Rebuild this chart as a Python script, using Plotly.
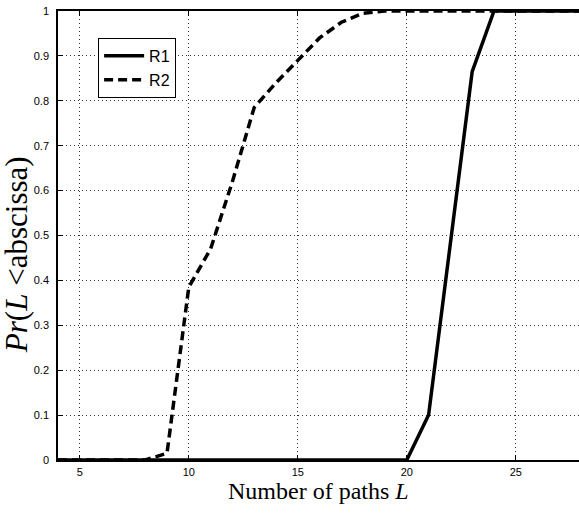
import plotly.graph_objects as go

# ---- data ----
L_values = [4, 5, 6, 7, 8, 9, 10, 11, 12, 13, 14, 15, 16, 17, 18, 19, 20, 21, 22, 23, 24, 25, 26, 27, 28]
R1 = [0, 0, 0, 0, 0, 0, 0, 0, 0, 0, 0, 0, 0, 0, 0, 0, 0, 0.10, 0.48, 0.865, 1, 1, 1, 1, 1]
R2 = [0, 0, 0, 0, 0, 0.015, 0.385, 0.47, 0.62, 0.785, 0.84, 0.89, 0.94, 0.975, 0.995, 1, 1, 1, 1, 1, 1, 1, 1, 1, 1]
series_names = ["R1", "R2"]
x_ticks = [5, 10, 15, 20, 25]
y_ticks = [0, 0.1, 0.2, 0.3, 0.4, 0.5, 0.6, 0.7, 0.8, 0.9, 1]
y_ticktext = ["0", "0.1", "0.2", "0.3", "0.4", "0.5", "0.6", "0.7", "0.8", "0.9", "1"]

fig = go.Figure()
fig.add_trace(go.Scatter(x=L_values, y=R1, mode="lines", name=series_names[0],
                         line=dict(color="black", width=3.5)))
fig.add_trace(go.Scatter(x=L_values, y=R2, mode="lines", name=series_names[1],
                         line=dict(color="black", width=3.5, dash="9px,5px")))

tickfont = dict(family="Liberation Sans, Arial, sans-serif", size=11, color="black")

fig.update_layout(
    width=579, height=518,
    margin=dict(l=58, r=0, t=11, b=58, autoexpand=False),
    paper_bgcolor="white", plot_bgcolor="white",
    showlegend=True,
    legend=dict(x=0.077, y=0.94, xanchor="left", yanchor="top",
                bgcolor="white", bordercolor="black", borderwidth=1,
                font=dict(family="Liberation Sans, Arial, sans-serif", size=16, color="black"),
                tracegroupgap=0, itemwidth=40),
    xaxis=dict(range=[4, 27.9], tickvals=x_ticks, ticks="inside", ticklen=5, tickcolor="black",
               showline=True, linecolor="black", linewidth=1.5, mirror="ticks",
               showgrid=True, gridcolor="#333", gridwidth=1, griddash="1px,3px",
               zeroline=False, tickfont=tickfont, ticklabelstandoff=1, automargin=False),
    yaxis=dict(range=[0, 1], tickvals=y_ticks, ticktext=y_ticktext, ticks="inside", ticklen=5,
               tickcolor="black", showline=True, linecolor="black", linewidth=1.5,
               showgrid=True, gridcolor="#333", gridwidth=1, griddash="1px,3px",
               zeroline=False, tickfont=tickfont, ticklabelstandoff=5, automargin=False),
    yaxis2=dict(range=[0, 1], tickvals=y_ticks, overlaying="y", side="right",
                ticks="inside", ticklen=5, tickcolor="black", showticklabels=False,
                showgrid=False, showline=False, zeroline=False, automargin=False),
    annotations=[
        dict(text="Number of paths <i>L</i>", xref="paper", yref="paper", x=0.5, y=-0.069,
             xanchor="center", yanchor="middle", showarrow=False,
             font=dict(family="Liberation Serif, Times New Roman, serif", size=24, color="black")),
        dict(text="<i>Pr</i>(<i>L</i> &lt;abscissa)", xref="paper", yref="paper",
             x=-0.08, y=0.457, xanchor="center", yanchor="middle", textangle=-90,
             showarrow=False,
             font=dict(family="Liberation Serif, Times New Roman, serif", size=31, color="black")),
    ],
)

fig.write_html("out.html", config={"displayModeBar": False},
               post_script="document.body.style.margin='0';document.body.style.padding='0';")
